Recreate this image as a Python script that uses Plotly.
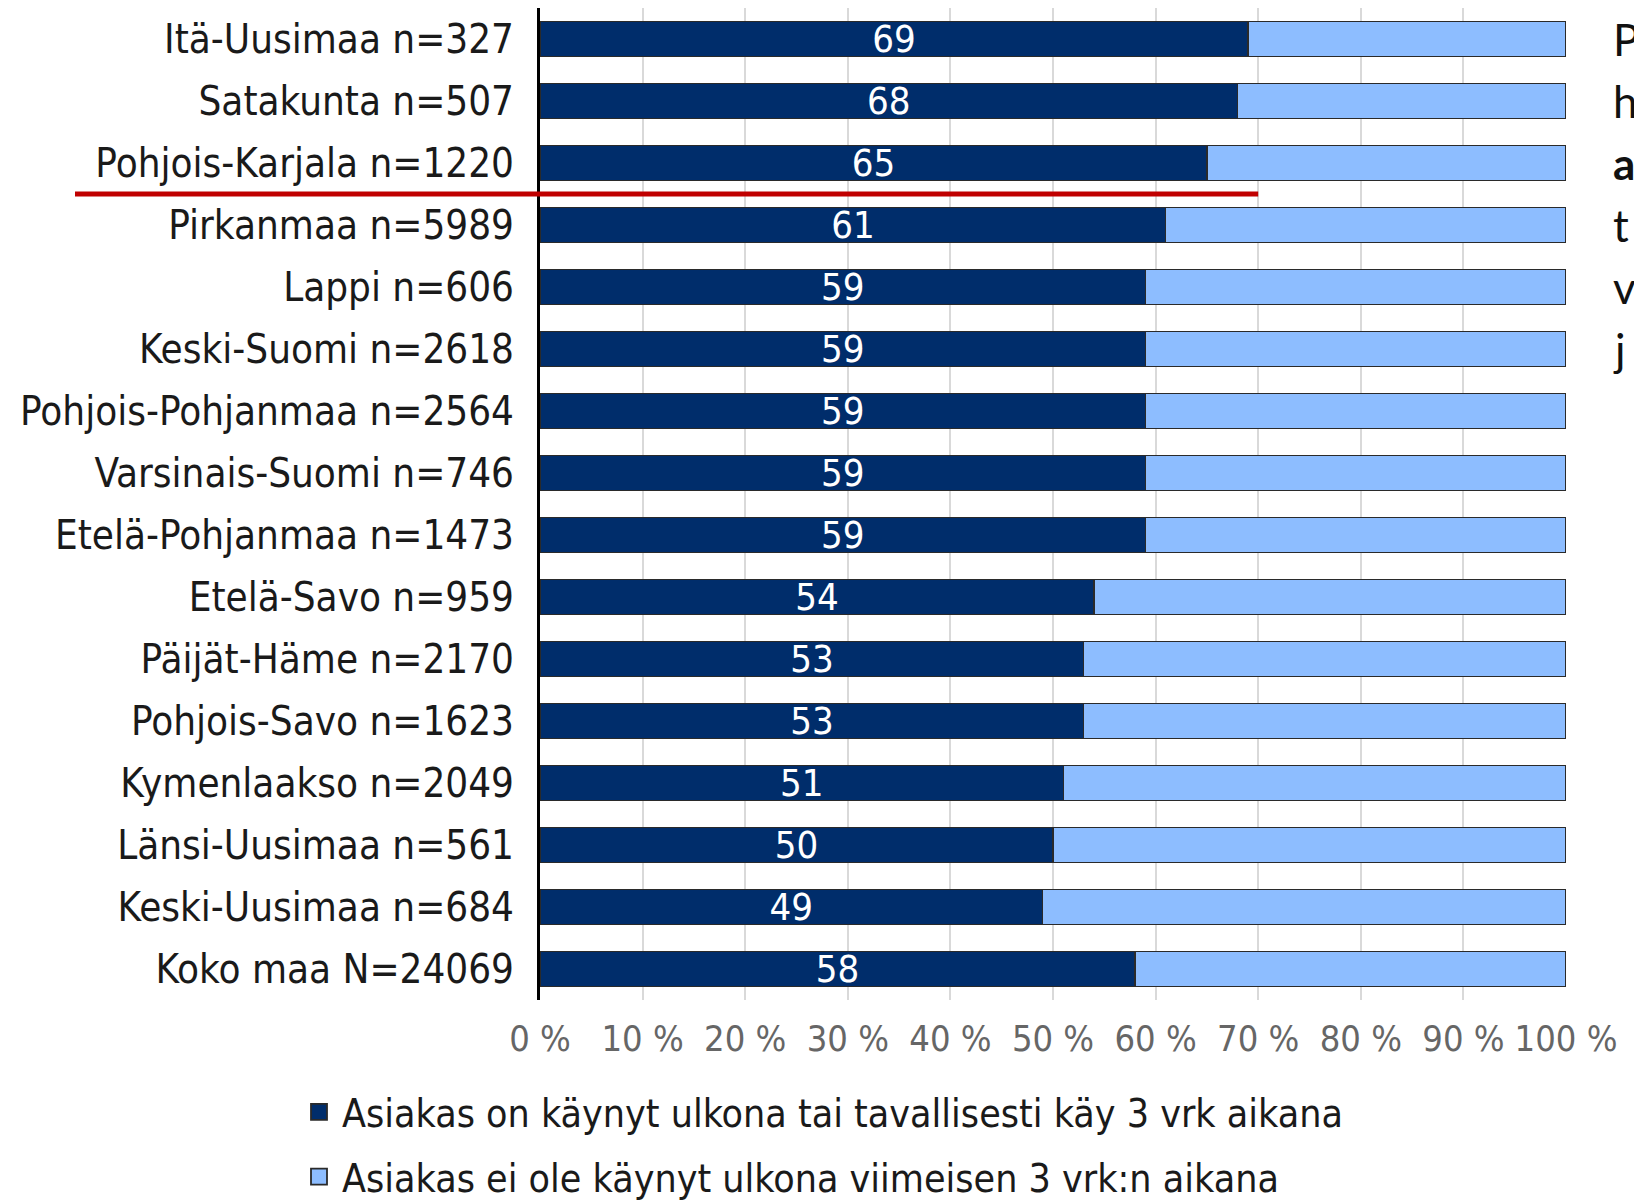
import plotly.graph_objects as go

categories = [
    "Itä-Uusimaa n=327", "Satakunta n=507", "Pohjois-Karjala n=1220",
    "Pirkanmaa n=5989", "Lappi n=606", "Keski-Suomi n=2618",
    "Pohjois-Pohjanmaa n=2564", "Varsinais-Suomi n=746", "Etelä-Pohjanmaa n=1473",
    "Etelä-Savo n=959", "Päijät-Häme n=2170", "Pohjois-Savo n=1623",
    "Kymenlaakso n=2049", "Länsi-Uusimaa n=561", "Keski-Uusimaa n=684",
    "Koko maa N=24069",
]
outside_yes = [69, 68, 65, 61, 59, 59, 59, 59, 59, 54, 53, 53, 51, 50, 49, 58]
outside_no = [31, 32, 35, 39, 41, 41, 41, 41, 41, 46, 47, 47, 49, 50, 51, 42]
series_names = [
    "Asiakas on käynyt ulkona tai tavallisesti käy 3 vrk aikana",
    "Asiakas ei ole käynyt ulkona viimeisen 3 vrk:n aikana",
]
tick_vals = [0, 10, 20, 30, 40, 50, 60, 70, 80, 90, 100]
side_letters = ["P", "h", "<b>a</b>", "t", "v", "j"]

DARK = "#002D6B"
LIGHT = "#8DBDFF"
FONT = "DejaVu Sans Condensed, Liberation Sans Narrow, sans-serif"

W, H = 1634, 1200
ML, MR, MT, MB = 540, 68, 8, 200
PW = W - ML - MR
PH = H - MT - MB

fig = go.Figure()
fig.add_trace(go.Bar(
    y=categories, x=outside_yes, orientation="h", name=series_names[0],
    marker=dict(color=DARK, line=dict(color="#2a2a2a", width=1.2)),
    text=[str(v) for v in outside_yes], textposition="inside", textangle=0,
    insidetextanchor="middle", constraintext="none",
    textfont=dict(color="white", size=38, family=FONT),
    showlegend=False, hoverinfo="x+y",
))
fig.add_trace(go.Bar(
    y=categories, x=outside_no, orientation="h", name=series_names[1],
    marker=dict(color=LIGHT, line=dict(color="#2a2a2a", width=1.2)),
    showlegend=False, hoverinfo="x+y",
))
# legend entries
for i, (nm, col) in enumerate(zip(series_names, [DARK, LIGHT])):
    fig.add_trace(go.Scatter(
        x=[None], y=[None], mode="markers", name=nm, legendgroup=f"g{i}",
        marker=dict(symbol="square", size=24, color=col,
                    line=dict(color="#2a2a2a", width=1.8)),
        showlegend=True,
    ))

# red separator line (between Pohjois-Karjala and Pirkanmaa, ending at 70 %)
n = len(categories)
sep_idx = categories.index("Pohjois-Karjala n=1220") + 1
y_sep = 1 - sep_idx / n
fig.add_shape(type="line", xref="paper", yref="paper",
              x0=(75 - ML) / PW, x1=70 / 100,
              y0=y_sep, y1=y_sep, line=dict(color="#C00000", width=5))

# cut-off text on the right edge
for cat, letter in zip(categories, side_letters):
    fig.add_annotation(text=letter, xref="paper", yref="y", x=(1611 - ML) / PW,
                       y=cat, xanchor="left", yanchor="middle", showarrow=False,
                       font=dict(family="Lato, sans-serif", size=44, color="#111"))

fig.update_layout(
    width=W, height=H, barmode="stack", bargap=0.43,
    margin=dict(l=ML, r=MR, t=MT, b=MB, autoexpand=False),
    paper_bgcolor="white", plot_bgcolor="white",
    font=dict(family=FONT, color="#1a1a1a"),
    legend=dict(xref="container", yref="container",
                x=296 / W, xanchor="left",
                y=1 - 1080 / H, yanchor="top", orientation="v",
                font=dict(size=39, family=FONT, color="#1a1a1a"),
                tracegroupgap=11, itemwidth=36, itemsizing="trace",
                bgcolor="rgba(0,0,0,0)"),
    xaxis=dict(range=[0, 100], tickvals=tick_vals,
               ticktext=[f"{v} %" for v in tick_vals],
               showgrid=True, gridcolor="#d9d9d9", gridwidth=1.5,
               zeroline=False, showline=False, ticks="",
               tickfont=dict(size=36, color="#666666", family=FONT),
               ticklabelstandoff=14, fixedrange=True),
    yaxis=dict(autorange="reversed", showline=True, linecolor="black", linewidth=3,
               showgrid=False, ticks="", tickfont=dict(size=40, color="#1a1a1a", family=FONT),
               ticklabelstandoff=15, fixedrange=True),
)

fig.write_html("out.html", config={"displayModeBar": False},
               post_script="document.body.style.margin='0';")
